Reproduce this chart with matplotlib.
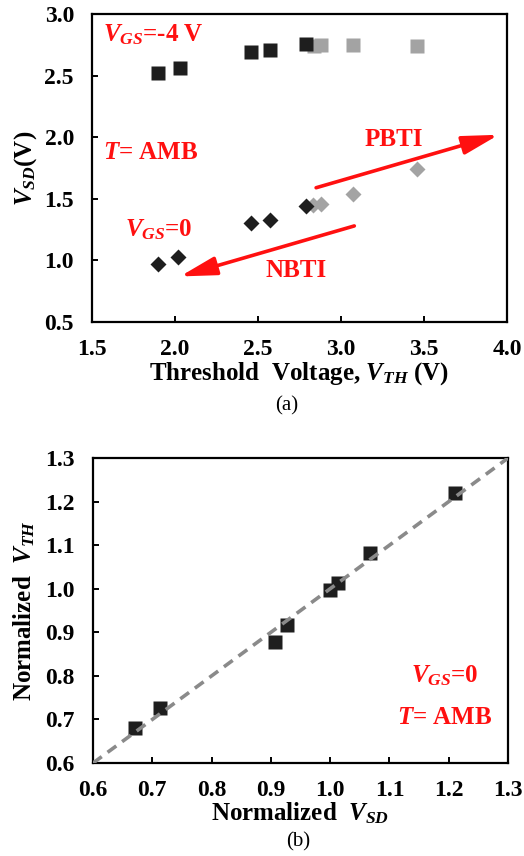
import numpy as np
import matplotlib
matplotlib.use("Agg")
from matplotlib import pyplot as plt

# fonts: bold Times-like everywhere
plt.rcParams['font.family'] = 'Liberation Serif'
plt.rcParams['font.weight'] = 'bold'
plt.rcParams['mathtext.fontset'] = 'custom'
plt.rcParams['mathtext.rm'] = 'Liberation Serif:bold'
plt.rcParams['mathtext.it'] = 'Liberation Serif:italic:bold'
plt.rcParams['mathtext.bf'] = 'Liberation Serif:bold'

###########################################################################
# data
###########################################################################

# (a) VGS=-4 V, squares
vthNegBlack = [1.90, 2.03, 2.46, 2.57, 2.79]
vsdNegBlack = [2.52, 2.56, 2.69, 2.71, 2.76]
vthNegGray = [2.84, 2.88, 3.07, 3.46]
vsdNegGray = [2.74, 2.75, 2.75, 2.74]

# (a) VGS=0, diamonds
vthZeroBlack = [1.90, 2.02, 2.46, 2.57, 2.79]
vsdZeroBlack = [0.97, 1.03, 1.30, 1.33, 1.44]
vthZeroGray = [2.83, 2.88, 3.07, 3.46]
vsdZeroGray = [1.45, 1.46, 1.54, 1.74]

# (b) normalized
normVSD = [0.671, 0.713, 0.907, 0.928, 1.000, 1.013, 1.067, 1.210]
normVTH = [0.680, 0.726, 0.878, 0.917, 0.997, 1.013, 1.082, 1.219]

black = '#1e1e1e'
gray = '#a3a3a3'
red = '#ff1010'

fig = plt.figure(figsize=(5.24, 8.56), dpi=100)

def styleAxes(ax):
    for s in ax.spines.values():
        s.set_linewidth(1.6)
        s.set_color('black')
    ax.tick_params(direction='in', length=4, width=1.4, labelsize=17)
    ax.tick_params(axis='x', pad=12)
    ax.tick_params(axis='y', pad=13)
    for lab in ax.get_xticklabels() + ax.get_yticklabels():
        lab.set_fontweight('bold')

###########################################################################
# (a)
###########################################################################
axA = fig.add_axes([0.1756, 0.6238, 0.792, 0.3598])
axA.plot(vthNegGray, vsdNegGray, 's', color=gray, ms=9.5, mec='none')
axA.plot(vthNegBlack, vsdNegBlack, 's', color=black, ms=9.5, mec='none')
axA.plot(vthZeroGray, vsdZeroGray, 'D', color=gray, ms=8.5, mec='none')
axA.plot(vthZeroBlack, vsdZeroBlack, 'D', color=black, ms=8.5, mec='none')

axA.set_xlim(1.5, 4.0)
axA.set_ylim(0.5, 3.0)
axA.set_xticks(np.arange(1.5, 4.01, 0.5))
axA.set_yticks(np.arange(0.5, 3.01, 0.5))
axA.xaxis.set_major_formatter(matplotlib.ticker.FormatStrFormatter('%.1f'))
axA.yaxis.set_major_formatter(matplotlib.ticker.FormatStrFormatter('%.1f'))
styleAxes(axA)
axA.set_xlabel(r"Threshold  Voltage, $V_{TH}$ (V)", fontsize=18, fontweight='bold', labelpad=0)
axA.set_ylabel(r"$V_{SD}$(V)", fontsize=18, fontweight='bold', labelpad=4)

axA.text(1.566, 2.83, r"$V_{GS}$=-4 V", color=red, fontsize=18, va='center', ha='left')
axA.text(1.566, 1.88, r"$T$= AMB", color=red, fontsize=18, va='center', ha='left')
axA.text(1.70, 1.25, r"$V_{GS}$=0", color=red, fontsize=18, va='center', ha='left')
axA.text(3.32, 1.98, "PBTI", color=red, fontsize=18, va='center', ha='center')
axA.text(2.73, 0.92, "NBTI", color=red, fontsize=18, va='center', ha='center')

arrowStyle = dict(arrowstyle='-|>,head_length=1.1,head_width=0.28', color=red,
                  lw=2.6, mutation_scale=20, shrinkA=0, shrinkB=0)
axA.annotate("", xy=(3.95, 2.02), xytext=(2.85, 1.59), arrowprops=arrowStyle)
axA.annotate("", xy=(2.03, 0.87), xytext=(3.08, 1.28), arrowprops=arrowStyle)

fig.text(0.547, 0.526, "(a)", fontsize=15, fontweight='normal', ha='center', va='center')

###########################################################################
# (b)
###########################################################################
axB = fig.add_axes([0.1775, 0.1086, 0.792, 0.3563])
axB.plot([0.6, 1.3], [0.6, 1.3], '--', color='#8a8a8a', lw=2.6, dashes=(3, 2), zorder=3)
axB.plot(normVSD, normVTH, 's', color=black, ms=9.5, mec='none', zorder=2)

axB.set_xlim(0.6, 1.3)
axB.set_ylim(0.6, 1.3)
axB.set_xticks(np.arange(0.6, 1.31, 0.1))
axB.set_yticks(np.arange(0.6, 1.31, 0.1))
axB.xaxis.set_major_formatter(matplotlib.ticker.FormatStrFormatter('%.1f'))
axB.yaxis.set_major_formatter(matplotlib.ticker.FormatStrFormatter('%.1f'))
styleAxes(axB)
axB.set_xlabel(r"Normalized  $V_{SD}$", fontsize=18, fontweight='bold', labelpad=0)
axB.set_ylabel(r"Normalized  $V_{TH}$", fontsize=18, fontweight='bold', labelpad=6)

axB.text(1.194, 0.80, r"$V_{GS}$=0", color=red, fontsize=18, va='center', ha='center')
axB.text(1.194, 0.705, r"$T$= AMB", color=red, fontsize=18, va='center', ha='center')

fig.text(0.569, 0.016, "(b)", fontsize=15, fontweight='normal', ha='center', va='center')

plt.savefig("out.png", dpi=100)
